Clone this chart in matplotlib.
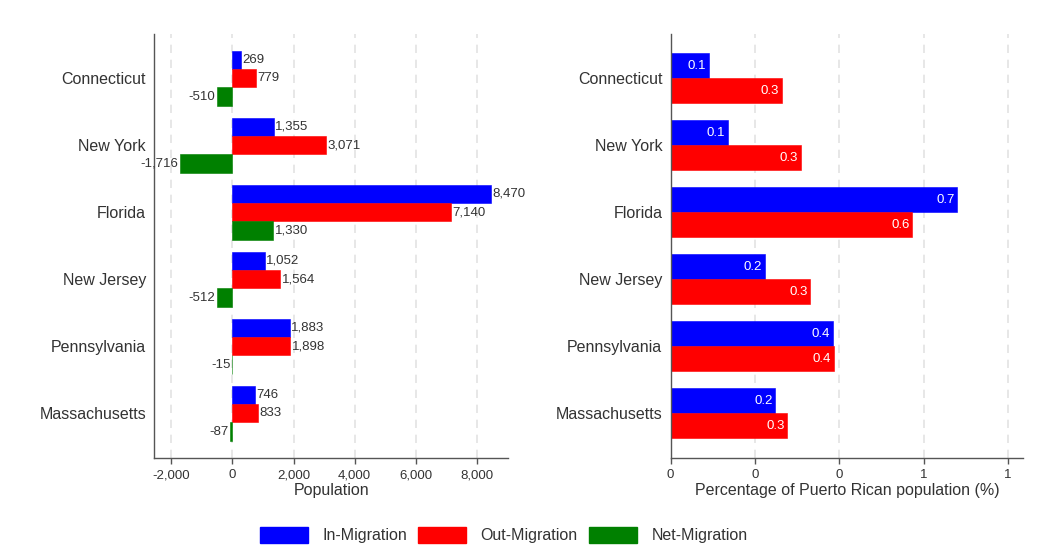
import matplotlib
matplotlib.use("Agg")
import matplotlib.pyplot as plt
from matplotlib.patches import Patch
from matplotlib.ticker import FuncFormatter
import numpy as np

plt.rcParams['font.family'] = ['Liberation Sans', 'DejaVu Sans']

states = ["Connecticut", "New York", "Florida", "New Jersey", "Pennsylvania", "Massachusetts"]
in_migration = [269, 1355, 8470, 1052, 1883, 746]
out_migration = [779, 3071, 7140, 1564, 1898, 833]
net_migration = [-510, -1716, 1330, -512, -15, -87]
in_pct = [0.091, 0.136, 0.680, 0.223, 0.384, 0.248]
out_pct = [0.264, 0.308, 0.573, 0.331, 0.387, 0.277]
left_ticks = [-2000, 0, 2000, 4000, 6000, 8000]
right_ticks = [0, 0.2, 0.4, 0.6, 0.8]
legend_labels = ["In-Migration", "Out-Migration", "Net-Migration"]

BLUE, RED, GREEN = "#0000ff", "#ff0000", "#008000"
TXT = "#333333"
SPINE = "#555555"
GRID = "#e3e3e3"

fig = plt.figure(figsize=(10.43, 5.58), dpi=100)
ax1 = fig.add_axes([0.148, 0.179, 0.339, 0.760])
ax2 = fig.add_axes([0.643, 0.179, 0.338, 0.760])

y = np.arange(len(states))

def style(ax):
    for s in ("top", "right"):
        ax.spines[s].set_visible(False)
    for s in ("left", "bottom"):
        ax.spines[s].set_color(SPINE)
        ax.spines[s].set_linewidth(1.0)
    ax.tick_params(axis='y', length=0, pad=6, labelsize=11.5, labelcolor=TXT)
    ax.tick_params(axis='x', length=4, width=1, color=SPINE, pad=4, labelsize=9.5, labelcolor=TXT)
    ax.set_yticks(y)
    ax.set_yticklabels(states)
    ax.set_ylim(len(states) - 1 + 0.67, -0.66)
    ax.grid(axis='x', color=GRID, linestyle=(0, (5, 4)), linewidth=1.2)
    ax.set_axisbelow(True)

# Left panel
h = 0.275
b1 = ax1.barh(y - h, in_migration, height=h, color=BLUE, edgecolor=BLUE, linewidth=0.4)
b2 = ax1.barh(y, out_migration, height=h, color=RED, edgecolor=RED, linewidth=0.4)
b3 = ax1.barh(y + h, net_migration, height=h, color=GREEN, edgecolor=GREEN, linewidth=0.4)
for bars, vals in ((b1, in_migration), (b2, out_migration), (b3, net_migration)):
    ax1.bar_label(bars, labels=[f"{v:,}" for v in vals], padding=1, fontsize=9.5, color=TXT)
style(ax1)
ax1.set_xlim(-2557, 9016)
ax1.set_xticks(left_ticks)
ax1.xaxis.set_major_formatter(FuncFormatter(lambda v, p: f"{int(v):,}"))
ax1.set_xlabel("Population", fontsize=11.5, color=TXT, labelpad=1)

# Right panel
h2 = 0.375
c1 = ax2.barh(y - h2 / 2, in_pct, height=h2, color=BLUE, edgecolor=BLUE, linewidth=0.4)
c2 = ax2.barh(y + h2 / 2, out_pct, height=h2, color=RED, edgecolor=RED, linewidth=0.4)
for yy, vals in ((y - h2 / 2, in_pct), (y + h2 / 2, out_pct)):
    for yi, v in zip(yy, vals):
        ax2.annotate(f"{v:.1f}", xy=(v, yi), xytext=(-2, 0), textcoords="offset points",
                     ha="right", va="center", fontsize=9.5, color="white")
style(ax2)
ax2.set_xlim(0, 0.836)
ax2.set_xticks(right_ticks)
ax2.xaxis.set_major_formatter(FuncFormatter(lambda v, p: f"{v:.0f}"))
ax2.set_xlabel("Percentage of Puerto Rican population (%)", fontsize=11.5, color=TXT, labelpad=1)

handles = [Patch(facecolor=BLUE, edgecolor=BLUE), Patch(facecolor=RED, edgecolor=RED),
           Patch(facecolor=GREEN, edgecolor=GREEN)]
fig.legend(handles, legend_labels, loc="center", bbox_to_anchor=(0.483, 0.041), ncol=3,
           frameon=False, fontsize=11.5, handlelength=3.0, handleheight=1.2,
           handletextpad=0.9, columnspacing=0.7, labelcolor=TXT)

fig.savefig("out.png", dpi=100)
